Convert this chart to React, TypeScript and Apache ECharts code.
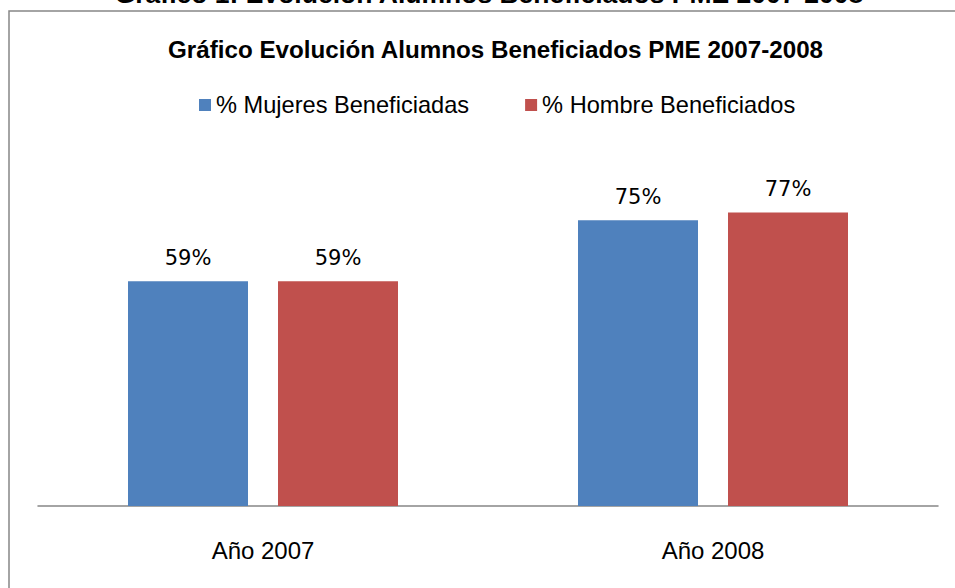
import React, { useEffect, useRef } from "react";
import * as echarts from "echarts";

const categories = ["Año 2007", "Año 2008"];
const seriesNames = ["% Mujeres Beneficiadas", "% Hombre Beneficiados"];
const mujeres = [0.59, 0.75];
const hombres = [0.59, 0.77];
const pageTitle = "Gráfico 1: Evolución Alumnos Beneficiados PME 2007-2008";
const chartTitle = "Gráfico Evolución Alumnos Beneficiados PME 2007-2008";

export default function App() {
  const ref = useRef<HTMLDivElement>(null);
  useEffect(() => {
    if (!ref.current) return;
    const chart = echarts.init(ref.current, undefined, { renderer: "svg" });
    const labelStyle = {
      show: true,
      position: "top" as const,
      distance: 13,
      fontFamily: "DejaVu Sans",
      fontSize: 21,
      color: "#000",
      formatter: (p: any) => Math.round(p.value * 100) + "%",
    };
    chart.setOption({
      animation: false,
      backgroundColor: "#fff",
      title: {
        text: chartTitle,
        left: 163,
        top: 32,
        textStyle: {
          fontFamily: "Liberation Sans",
          fontWeight: "bold",
          fontSize: 24.2,
          color: "#000",
        },
      },
      legend: {
        top: 88,
        left: 194,
        itemWidth: 12,
        itemHeight: 12,
        itemGap: 56,
        icon: "rect",
        textStyle: {
          fontFamily: "Liberation Sans",
          fontSize: 23.6,
          color: "#000",
          padding: [0, 0, 0, 0],
        },
        data: seriesNames,
      },
      grid: { left: 38, width: 900, top: 163, height: 343 },
      xAxis: {
        type: "category",
        data: categories,
        axisLine: { lineStyle: { color: "#868686", width: 1.5 } },
        axisTick: { show: false },
        axisLabel: {
          margin: 32,
          fontFamily: "Liberation Sans",
          fontSize: 24,
          color: "#000",
        },
      },
      yAxis: {
        type: "value",
        min: 0,
        max: 0.9,
        show: false,
        splitLine: { show: false },
      },
      graphic: [
        {
          type: "rect",
          shape: { x: 9, y: 11, width: 2000, height: 2000 },
          style: { fill: "none", stroke: "#868686", lineWidth: 1.5 },
          silent: true,
          z: -1,
        },
        {
          type: "text",
          x: 489,
          y: 7,
          style: {
            text: pageTitle,
            fontFamily: "Liberation Sans",
            fontWeight: "bold",
            fontSize: 26.5,
            fill: "#000",
            align: "center",
            verticalAlign: "bottom",
          },
        },
      ],
      series: [
        {
          name: seriesNames[0],
          type: "bar",
          data: mujeres,
          barWidth: 120,
          barGap: "25%",
          itemStyle: { color: "#4F81BD" },
          label: labelStyle,
        },
        {
          name: seriesNames[1],
          type: "bar",
          data: hombres,
          barWidth: 120,
          barGap: "25%",
          itemStyle: { color: "#C0504D" },
          label: labelStyle,
        },
      ],
    });
    return () => chart.dispose();
  }, []);
  return (
    <div
      ref={ref}
      style={{ position: "absolute", left: 0, top: 0, width: 955, height: 588 }}
    />
  );
}
